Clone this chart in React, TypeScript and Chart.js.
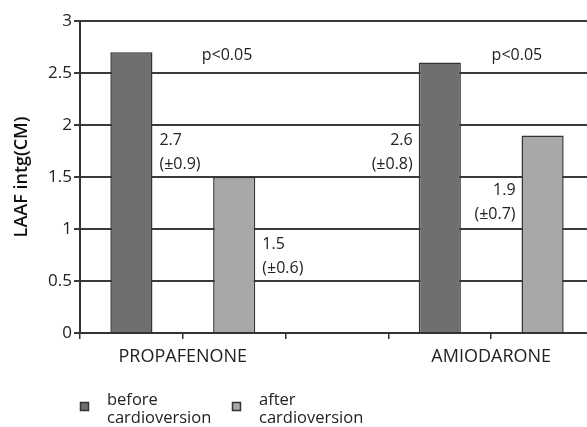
import React, { useEffect, useRef } from "react";
import { Chart, registerables } from "chart.js";

Chart.register(...registerables);

const slots = ["PROPAFENONE before", "PROPAFENONE after", "", "AMIODARONE before", "AMIODARONE after"];
const groupLabels = ["", "PROPAFENONE", "", "", "AMIODARONE"];
const beforeValues = [2.7, null, null, 2.6, null];
const afterValues = [null, 1.5, null, null, 1.9];
const seriesNames = [["before", "cardioversion"], ["after", "cardioversion"]];
const meanLabels = ["2.7", "1.5", "2.6", "1.9"];
const sdLabels = ["(±0.9)", "(±0.6)", "(±0.8)", "(±0.7)"];
const pLabels = ["p<0.05", "p<0.05"];
const yTitle = "LAAF intg(CM)";

const FONT = "'Open Sans', 'DejaVu Sans', sans-serif";
const BEFORE_FILL = "#6f6f6f";
const AFTER_FILL = "#a8a8a8";
const EDGE = "#333333";
const TEXT = "#222222";

const annotPlugin = {
  id: "annot",
  afterDatasetsDraw(chart: any) {
    const ctx = chart.ctx;
    const y = chart.scales.y;
    const x = chart.scales.x;
    ctx.save();
    ctx.font = `16px ${FONT}`;
    ctx.fillStyle = TEXT;
    ctx.textBaseline = "middle";
    const bars = [
      { ds: 0, i: 0, side: "right", v: 1.85 },
      { ds: 1, i: 1, side: "right", v: 0.85 },
      { ds: 0, i: 3, side: "left", v: 1.85 },
      { ds: 1, i: 4, side: "left", v: 1.375 },
    ];
    bars.forEach((b, k) => {
      const el = chart.getDatasetMeta(b.ds).data[b.i];
      const half = el.width / 2;
      const py = y.getPixelForValue(b.v);
      if (b.side === "right") {
        ctx.textAlign = "left";
        const px = el.x + half + 7;
        ctx.fillText(meanLabels[k], px, py);
        ctx.fillText(sdLabels[k], px, py + 24);
      } else {
        ctx.textAlign = "right";
        const px = el.x - half - 6;
        ctx.fillText(meanLabels[k], px, py);
        ctx.fillText(sdLabels[k], px, py + 24);
      }
    });
    ctx.textAlign = "center";
    const pPos = [0.93, 3.75];
    pLabels.forEach((t, k) => {
      ctx.fillText(t, x.getPixelForValue(pPos[k]), y.getPixelForValue(2.67));
    });
    // legend
    const fills = [BEFORE_FILL, AFTER_FILL];
    const lx = [80, 232];
    const ly = 402;
    ctx.textAlign = "left";
    ctx.font = `16.5px ${FONT}`;
    seriesNames.forEach((lines, k) => {
      ctx.fillStyle = fills[k];
      ctx.fillRect(lx[k], ly, 9, 9);
      ctx.strokeStyle = EDGE;
      ctx.lineWidth = 1.5;
      ctx.strokeRect(lx[k] + 0.5, ly + 0.5, 8, 8);
      ctx.fillStyle = TEXT;
      ctx.fillText(lines[0], lx[k] + 27, ly - 2);
      ctx.fillText(lines[1], lx[k] + 27, ly + 16);
    });
    ctx.restore();
  },
};

export default function App() {
  const ref = useRef<HTMLCanvasElement>(null);
  useEffect(() => {
    const canvas = ref.current!;
    const chart = new Chart(canvas, {
      type: "bar",
      data: {
        labels: slots,
        datasets: [
          {
            label: "before cardioversion",
            data: beforeValues,
            backgroundColor: BEFORE_FILL,
            borderColor: EDGE,
            borderWidth: 1.5,
          },
          {
            label: "after cardioversion",
            data: afterValues,
            backgroundColor: AFTER_FILL,
            borderColor: EDGE,
            borderWidth: 1.5,
          },
        ],
      },
      options: {
        responsive: false,
        animation: false,
        layout: { padding: { top: 21, right: 0, left: 0, bottom: 0 } },
        datasets: {
          bar: { grouped: false, categoryPercentage: 1, barPercentage: 0.41 },
        },
        plugins: { legend: { display: false }, tooltip: { enabled: false } },
        scales: {
          x: {
            type: "category",
            afterFit: (s: any) => {
              s.height = 94;
              s.paddingLeft = 0;
              s.paddingRight = 0;
            },
            grid: {
              offset: true,
              drawOnChartArea: false,
              drawTicks: true,
              tickLength: 6,
              color: EDGE,
              lineWidth: 1.5,
            },
            border: { color: EDGE, width: 2 },
            ticks: {
              autoSkip: false,
              maxRotation: 0,
              minRotation: 0,
              labelOffset: -51.4,
              padding: 7,
              color: TEXT,
              font: { family: FONT, size: 18 },
              callback: (_v: any, i: number) => groupLabels[i],
            },
          },
          y: {
            min: 0,
            max: 3,
            afterFit: (s: any) => {
              s.width = 80;
              s.paddingTop = 0;
              s.paddingBottom = 0;
            },
            ticks: {
              stepSize: 0.5,
              padding: 2,
              color: TEXT,
              font: { family: FONT, size: 17 },
              callback: (v: any) => String(Number(v)),
            },
            grid: {
              color: "#3a3a3a",
              lineWidth: 2,
              tickLength: 6,
            },
            border: { color: EDGE, width: 2 },
            title: {
              display: true,
              text: yTitle,
              color: "#111111",
              font: { family: FONT, size: 18, weight: "600" },
              padding: { top: 11, bottom: 4 },
            },
          },
        },
      },
      plugins: [annotPlugin],
    } as any);
    return () => chart.destroy();
  }, []);
  return (
    <div style={{ position: "fixed", left: 0, top: 0, width: 587, height: 427, overflow: "hidden", background: "#fff" }}>
      <canvas ref={ref} width={594} height={427} style={{ display: "block" }} />
    </div>
  );
}
